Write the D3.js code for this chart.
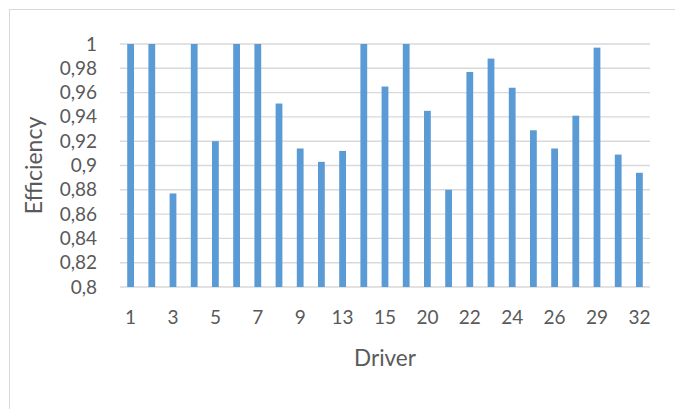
<!DOCTYPE html>
<html>
<head>
<meta charset="utf-8">
<script src="https://cdn.jsdelivr.net/npm/d3@7/dist/d3.min.js"></script>
<style>
  html, body { margin: 0; padding: 0; background: #fff; }
  svg { display: block; }
  text { font-family: Lato, "Open Sans", sans-serif; fill: #595959; }
</style>
</head>
<body>
<svg id="chart" width="675" height="409"></svg>
<script>
// Driver ids (one bar each) and their efficiency scores
const drivers = ["1","2","3","4","5","6","7","8","9","11","13","14","15","17","20","21","22","23","24","25","26","27","29","30","32"];
const efficiency = [1, 1, 0.877, 1, 0.920, 1, 1, 0.951, 0.914, 0.903, 0.912, 1, 0.965, 1, 0.945, 0.880, 0.977, 0.988, 0.964, 0.929, 0.914, 0.941, 0.997, 0.909, 0.894];
// Category labels printed under the axis (every second driver)
const tickDrivers = ["1","3","5","7","9","13","15","20","22","24","26","29","32"];
// Value axis ticks
const yTicks = [0.8, 0.82, 0.84, 0.86, 0.88, 0.9, 0.92, 0.94, 0.96, 0.98, 1];
const yTickLabels = ["0,8","0,82","0,84","0,86","0,88","0,9","0,92","0,94","0,96","0,98","1"];

const svg = d3.select("#chart");
const W = 675, H = 409;
const plot = { left: 120, right: 650, top: 44, bottom: 287 };

svg.append("rect").attr("width", W).attr("height", H).attr("fill", "#fff");

// chart-area frame
svg.append("rect")
  .attr("x", 9.5).attr("y", 9.5)
  .attr("width", W + 20).attr("height", H + 20)
  .attr("fill", "none").attr("stroke", "#d9d9d9").attr("stroke-width", 1);

const x = d3.scaleBand()
  .domain(drivers)
  .range([plot.left, plot.right])
  .paddingInner(0.68)
  .paddingOuter(0.34);

const y = d3.scaleLinear()
  .domain([0.8, 1])
  .range([plot.bottom, plot.top]);

// horizontal gridlines
svg.append("g")
  .selectAll("line")
  .data(yTicks)
  .join("line")
  .attr("x1", plot.left).attr("x2", plot.right)
  .attr("y1", d => y(d)).attr("y2", d => y(d))
  .attr("stroke", "#d9d9d9").attr("stroke-width", 1.4);

// value axis labels
const yAxis = d3.axisLeft(y)
  .tickValues(yTicks)
  .tickFormat((d, i) => yTickLabels[i])
  .tickSize(0)
  .tickPadding(0);
const yg = svg.append("g")
  .attr("transform", `translate(${plot.left - 23},0)`)
  .call(yAxis);
yg.select(".domain").remove();
yg.selectAll("text")
  .attr("font-size", 19)
  .attr("font-family", null)
  .attr("fill", "#595959");

// bars
svg.append("g")
  .selectAll("rect")
  .data(drivers.map((d, i) => ({ driver: d, value: efficiency[i] })))
  .join("rect")
  .attr("x", d => x(d.driver))
  .attr("width", x.bandwidth())
  .attr("y", d => y(d.value))
  .attr("height", d => y(0.8) - y(d.value))
  .attr("fill", "#5b9bd5");

// category axis labels
const xAxis = d3.axisBottom(x)
  .tickValues(tickDrivers)
  .tickSize(0)
  .tickPadding(0);
const xg = svg.append("g")
  .attr("transform", `translate(0,${plot.bottom + 23})`)
  .call(xAxis);
xg.select(".domain").remove();
xg.selectAll("text")
  .attr("font-size", 19)
  .attr("font-family", null)
  .attr("fill", "#595959");

// axis titles
svg.append("text")
  .attr("x", (plot.left + plot.right) / 2)
  .attr("y", 366)
  .attr("text-anchor", "middle")
  .attr("font-size", 22.5)
  .text("Driver");

svg.append("text")
  .attr("transform", `translate(42,${(plot.top + plot.bottom) / 2}) rotate(-90)`)
  .attr("text-anchor", "middle")
  .attr("font-size", 23)
  .text("Efficiency");
</script>
</body>
</html>
